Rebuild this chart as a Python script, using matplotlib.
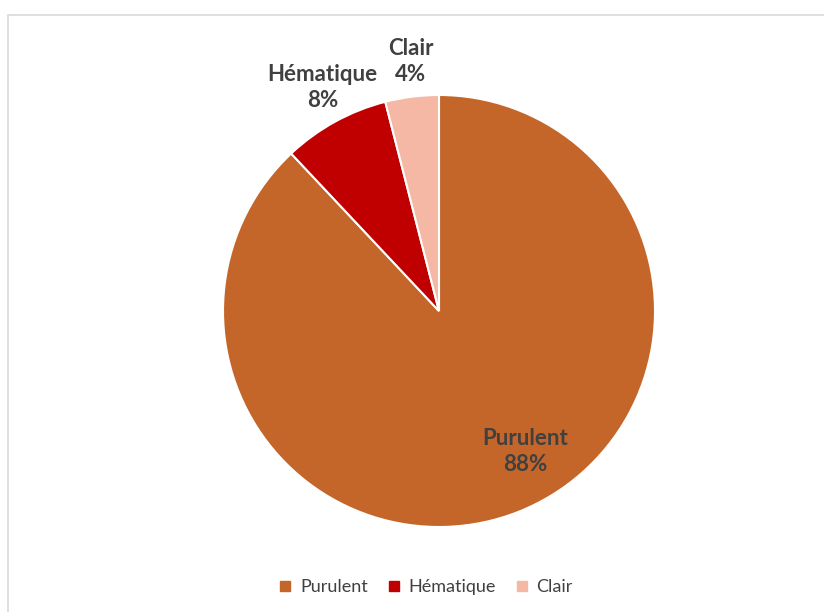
import matplotlib.pyplot as plt
from matplotlib.lines import Line2D
from matplotlib.patches import Rectangle

# aspect of the fluid, share of cases
categories = ["Purulent", "Hématique", "Clair"]
shares = [88, 8, 4]
colors = ["#C4652A", "#C00000", "#F4B8A4"]

# label anchor points in pie units (radius = 1)
label_pos = [(0.40, -0.65), (-0.54, 1.035), (-0.13, 1.155)]

fig = plt.figure(figsize=(8.24, 6.12), dpi=100)
fig.patch.set_facecolor("white")

# light grey chart frame
fig.patches.append(Rectangle((8 / 824, -0.01), 1.0, 1 - 15 / 612 + 0.01,
                             transform=fig.transFigure, fill=False,
                             edgecolor="#D9D9D9", linewidth=1.2))

ax = fig.add_axes([223 / 824, 85 / 612, 432 / 824, 432 / 612])
wedges, _ = ax.pie(shares, colors=colors, startangle=90, counterclock=False,
                   radius=1, wedgeprops=dict(edgecolor="white", linewidth=1.5))
ax.set_xlim(-1, 1)
ax.set_ylim(-1, 1)
ax.set_aspect("equal")

for name, val, (x, y) in zip(categories, shares, label_pos):
    ax.text(x, y, f"{name}\n{val}%", ha="center", va="center", fontsize=16,
            fontweight="bold", color="#404040", family="Lato", linespacing=1.3,
            clip_on=False)

handles = [Line2D([], [], marker="s", linestyle="none", markersize=7,
                  markerfacecolor=c, markeredgecolor=c) for c in colors]
fig.legend(handles, categories, loc="center", bbox_to_anchor=(425 / 824, 1 - 587 / 612),
           ncol=3, frameon=False, prop=dict(family="Lato", size=13),
           labelcolor="#404040", handletextpad=0.35, columnspacing=1.0,
           handlelength=0.9)

plt.savefig("out.png", dpi=100)
